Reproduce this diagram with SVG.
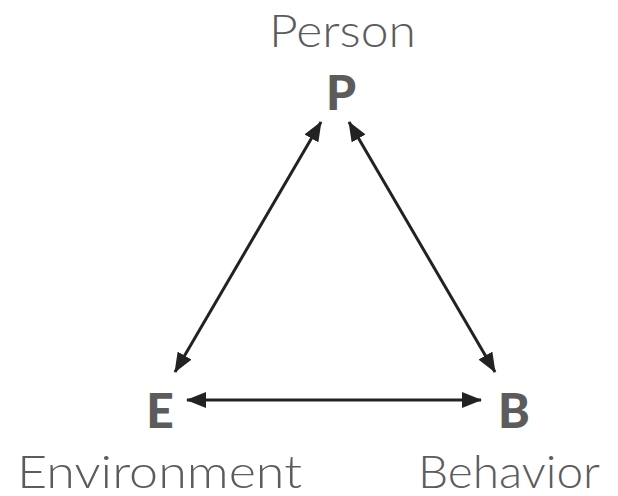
<svg xmlns="http://www.w3.org/2000/svg" width="618" height="496" viewBox="0 0 618 496">
<style>
.lbl{font-family:Lato,"Open Sans",sans-serif;font-size:46px;fill:#5c5c5c;font-weight:300}
.ltr{font-family:Lato,"Open Sans",sans-serif;font-size:48px;fill:#5c5c5c;font-weight:900;text-anchor:middle}
.c{stroke:#222;stroke-width:3;fill:none;marker-start:url(#ah);marker-end:url(#ah)}
</style>
<defs>
<marker id="ah" markerUnits="userSpaceOnUse" viewBox="0 0 20 16" refX="19" refY="8" markerWidth="20" markerHeight="16" orient="auto-start-reverse">
<path d="M0,0 L20,8 L0,16 Z" fill="#222"/>
</marker>
</defs>
<rect width="618" height="496" fill="#fff"/>
<g id="P"><text class="lbl" x="269" y="47" textLength="147" lengthAdjust="spacingAndGlyphs">Person</text><text class="ltr" x="341" y="110">P</text></g>
<g id="E"><text class="ltr" x="160" y="428">E</text><text class="lbl" x="17" y="488" textLength="285" lengthAdjust="spacingAndGlyphs">Environment</text></g>
<g id="B"><text class="ltr" x="514" y="428">B</text><text class="lbl" x="418" y="488" textLength="182" lengthAdjust="spacingAndGlyphs">Behavior</text></g>
<g id="connectors">
<line class="c" x1="321" y1="122" x2="175" y2="372"/>
<line class="c" x1="349" y1="122" x2="495" y2="372"/>
<line class="c" x1="187" y1="400" x2="481" y2="400"/>
</g>
</svg>
